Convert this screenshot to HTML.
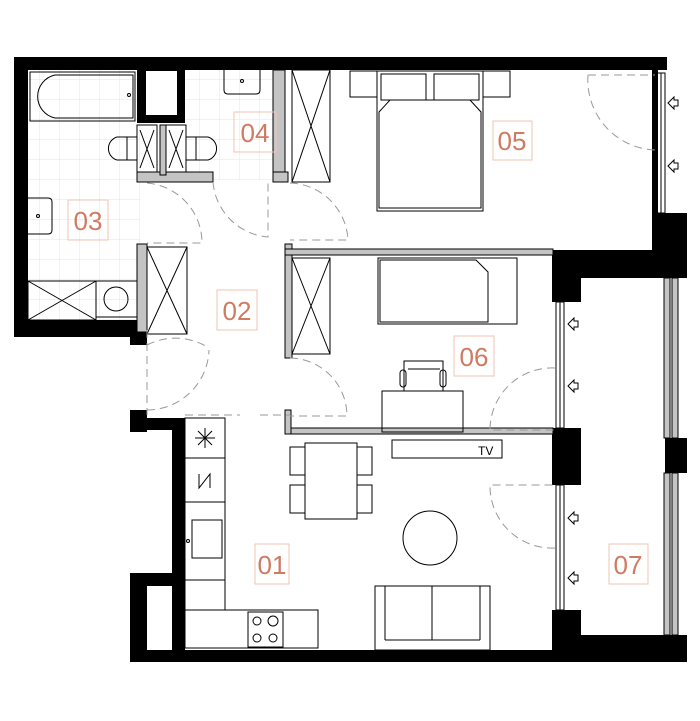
<!DOCTYPE html>
<html><head><meta charset="utf-8"><style>
html,body{margin:0;padding:0;background:#fff;}
svg{display:block;}
text{font-family:"Liberation Sans",sans-serif;}
</style></head><body>
<svg width="700" height="721" viewBox="0 0 700 721" xmlns="http://www.w3.org/2000/svg">
<defs>
<pattern id="tile" width="20" height="20" patternUnits="userSpaceOnUse">
<rect width="20" height="20" fill="#fff"/>
<path d="M20 0V20M0 20H20" stroke="#f1e6e2" stroke-width="1.2"/>
</pattern>
</defs>
<rect x="28" y="70" width="112" height="250" fill="url(#tile)"/>
<rect x="185" y="70" width="90" height="110" fill="url(#tile)"/>

<g fill="#000">
<rect x="14" y="57" width="653" height="13"/>
<rect x="14" y="57" width="14" height="280"/>
<rect x="14" y="320" width="133" height="17"/>
<rect x="130" y="320" width="17" height="25"/>
<rect x="137" y="70" width="48" height="53"/>
<rect x="652" y="70" width="6" height="143"/>
<rect x="652" y="213" width="35" height="40"/>
<rect x="552" y="250" width="135" height="28"/>
<rect x="552" y="250" width="29" height="52"/>
<rect x="552" y="428" width="29" height="57"/>
<rect x="665" y="438" width="22" height="35"/>
<rect x="552" y="610" width="29" height="52"/>
<rect x="552" y="635" width="135" height="27"/>
<rect x="130" y="650" width="430" height="12"/>
<rect x="130" y="410" width="17" height="22"/>
<rect x="130" y="418" width="55" height="12"/>
<rect x="172" y="418" width="13" height="232"/>
<rect x="130" y="573" width="55" height="13"/>
<rect x="130" y="573" width="17" height="89"/>
</g>
<rect x="146" y="71" width="31" height="44" fill="#fff"/>

<g fill="#c4c4c4" stroke="#000" stroke-width="1">
<rect x="137" y="172" width="76" height="10"/>
<rect x="273" y="70" width="12" height="110"/>
<rect x="273" y="172" width="15" height="10"/>
<rect x="137" y="244" width="10" height="88"/>
<rect x="285" y="244" width="7" height="114"/>
<rect x="285" y="249" width="268" height="6"/>
<rect x="285" y="428" width="268" height="6"/>
<rect x="285" y="410" width="6" height="24"/>
<rect x="664" y="278" width="6" height="160"/>
<rect x="672" y="278" width="6" height="160"/>
<rect x="664" y="473" width="6" height="162"/>
<rect x="672" y="473" width="6" height="162"/>
<rect x="160" y="125" width="6" height="50"/>
</g>

<g fill="none" stroke="#000" stroke-width="1">
<rect x="30" y="72" width="105" height="49"/>
<path d="M55 75H133V118H55A22 22 0 0 1 55 75Z"/>
<circle cx="129" cy="95" r="1.5"/>
<path d="M137 137H117A12 12 0 0 0 117 160H137Z"/>
<line x1="127" y1="137" x2="127" y2="160"/>
<path d="M186 137H208A12 12 0 0 1 208 160H186Z"/>
<line x1="196" y1="137" x2="196" y2="160"/>
<rect x="137" y="125" width="20" height="47"/><path d="M140 130L154 168M154 130L140 168"/>
<rect x="166" y="125" width="20" height="47"/><path d="M169 130L183 168M183 130L169 168"/>
<path d="M28 198H48Q52 198 52 202V230Q52 234 48 234H28"/><circle cx="38" cy="216" r="1.5"/>
<path d="M224 70V90Q224 94 228 94H256Q260 94 260 90V70"/><circle cx="242" cy="81" r="1.5"/>
<rect x="28" y="281" width="68" height="39"/><path d="M28 281L96 320M96 281L28 320"/>
<rect x="96" y="281" width="41" height="36"/><circle cx="116" cy="299" r="12"/>
<rect x="292" y="70" width="38" height="112"/><path d="M292 70L330 182M330 70L292 182"/>
<rect x="147" y="247" width="40" height="87"/><path d="M147 247L187 334M187 247L147 334"/>
<rect x="292" y="258" width="38" height="96"/><path d="M292 258L330 354M330 258L292 354"/>
<rect x="350" y="71" width="27" height="26"/><rect x="483" y="71" width="27" height="26"/>
<rect x="377" y="71" width="106" height="140"/>
<rect x="381" y="74" width="45" height="26"/><rect x="434" y="74" width="45" height="26"/>
<path d="M379 112L390 100H470L481 112V208H379Z"/>
<rect x="378" y="258" width="139" height="66"/>
<path d="M380 260H476L488 272V322H380Z"/>
<rect x="382" y="391" width="81" height="41"/>
<rect x="404" y="361" width="39" height="30"/>
<line x1="408" y1="369" x2="440" y2="369"/>
<rect x="400" y="370" width="6" height="17" rx="3"/><rect x="440" y="370" width="6" height="17" rx="3"/>
<rect x="185" y="418" width="40" height="192"/>
<line x1="185" y1="458" x2="225" y2="458"/>
<line x1="185" y1="502" x2="225" y2="502"/>
<line x1="185" y1="580" x2="225" y2="580"/>
<path d="M205 428V448M195 438H215M198 431L212 445M212 431L198 445"/>
<path d="M199 474V488L210 474V488"/>
<rect x="192" y="520" width="30" height="38"/><circle cx="188" cy="541" r="1.5"/>
<rect x="185" y="610" width="133" height="38"/>
<rect x="248" y="612" width="35" height="35"/>
<circle cx="257" cy="621" r="4"/><circle cx="273" cy="621" r="5"/>
<circle cx="257" cy="638" r="4"/><circle cx="273" cy="638" r="4"/>
<rect x="305" y="443" width="52" height="76"/>
<rect x="290" y="447" width="15" height="28"/><rect x="290" y="485" width="15" height="28"/>
<rect x="357" y="447" width="15" height="28"/><rect x="357" y="485" width="15" height="28"/>
<rect x="392" y="440" width="110" height="18"/>
<circle cx="430" cy="538" r="27"/>
<rect x="375" y="586" width="115" height="64"/>
<line x1="385" y1="586" x2="385" y2="640"/><line x1="480" y1="586" x2="480" y2="640"/>
<line x1="385" y1="640" x2="480" y2="640"/><line x1="432" y1="586" x2="432" y2="640"/>
<rect x="657" y="73" width="8" height="140"/><line x1="661" y1="73" x2="661" y2="213"/>
<rect x="556" y="302" width="8" height="126"/><line x1="560" y1="302" x2="560" y2="428"/>
<rect x="556" y="485" width="8" height="125"/><line x1="560" y1="485" x2="560" y2="610"/>
<path d="M674 97L668 103L674 109V106H678V100H674Z M674 160L668 166L674 172V169H678V163H674Z"/>
<path d="M574 318L568 324L574 330V327H578V321H574Z M574 380L568 386L574 392V389H578V383H574Z"/>
<path d="M574 512L568 518L574 524V521H578V515H574Z M574 572L568 578L574 584V581H578V575H574Z"/>
</g>
<text x="478" y="455" font-size="12" fill="#000">TV</text>

<g fill="none" stroke="#999" stroke-width="1" stroke-dasharray="8,5">
<path d="M147 183A60 60 0 0 1 202 243H147"/>
<path d="M213 182A60 60 0 0 0 268 237V182"/>
<path d="M290 183A60 60 0 0 1 348 240H290"/>
<path d="M147 345A62 62 0 0 1 209 348"/>
<path d="M147 410A62 62 0 0 0 209 350"/>
<path d="M290 358A58 58 0 0 1 347 416H290"/>
<path d="M555 368A62 62 0 0 0 490 430H555"/>
<path d="M555 548A62 62 0 0 1 490 485H555"/>
<path d="M588 75H655M588 75A70 70 0 0 0 655 150"/>
<path d="M147 330V415M185 415H240M260 415H290"/>
</g>

<g font-size="26" fill="#d07a62" text-anchor="middle">
<rect x="68" y="200" width="40" height="40" fill="none" stroke="#efc4b6"/><text x="88" y="230">03</text>
<rect x="234" y="112" width="42" height="40" fill="none" stroke="#efc4b6"/><text x="255" y="142">04</text>
<rect x="493" y="121" width="39" height="39" fill="none" stroke="#efc4b6"/><text x="512" y="150">05</text>
<rect x="217" y="290" width="40" height="40" fill="none" stroke="#efc4b6"/><text x="237" y="320">02</text>
<rect x="454" y="336" width="40" height="40" fill="none" stroke="#efc4b6"/><text x="474" y="366">06</text>
<rect x="255" y="544" width="34" height="40" fill="none" stroke="#efc4b6"/><text x="272" y="574">01</text>
<rect x="609" y="544" width="39" height="40" fill="none" stroke="#efc4b6"/><text x="628" y="574">07</text>
</g>
</svg>
</body></html>
